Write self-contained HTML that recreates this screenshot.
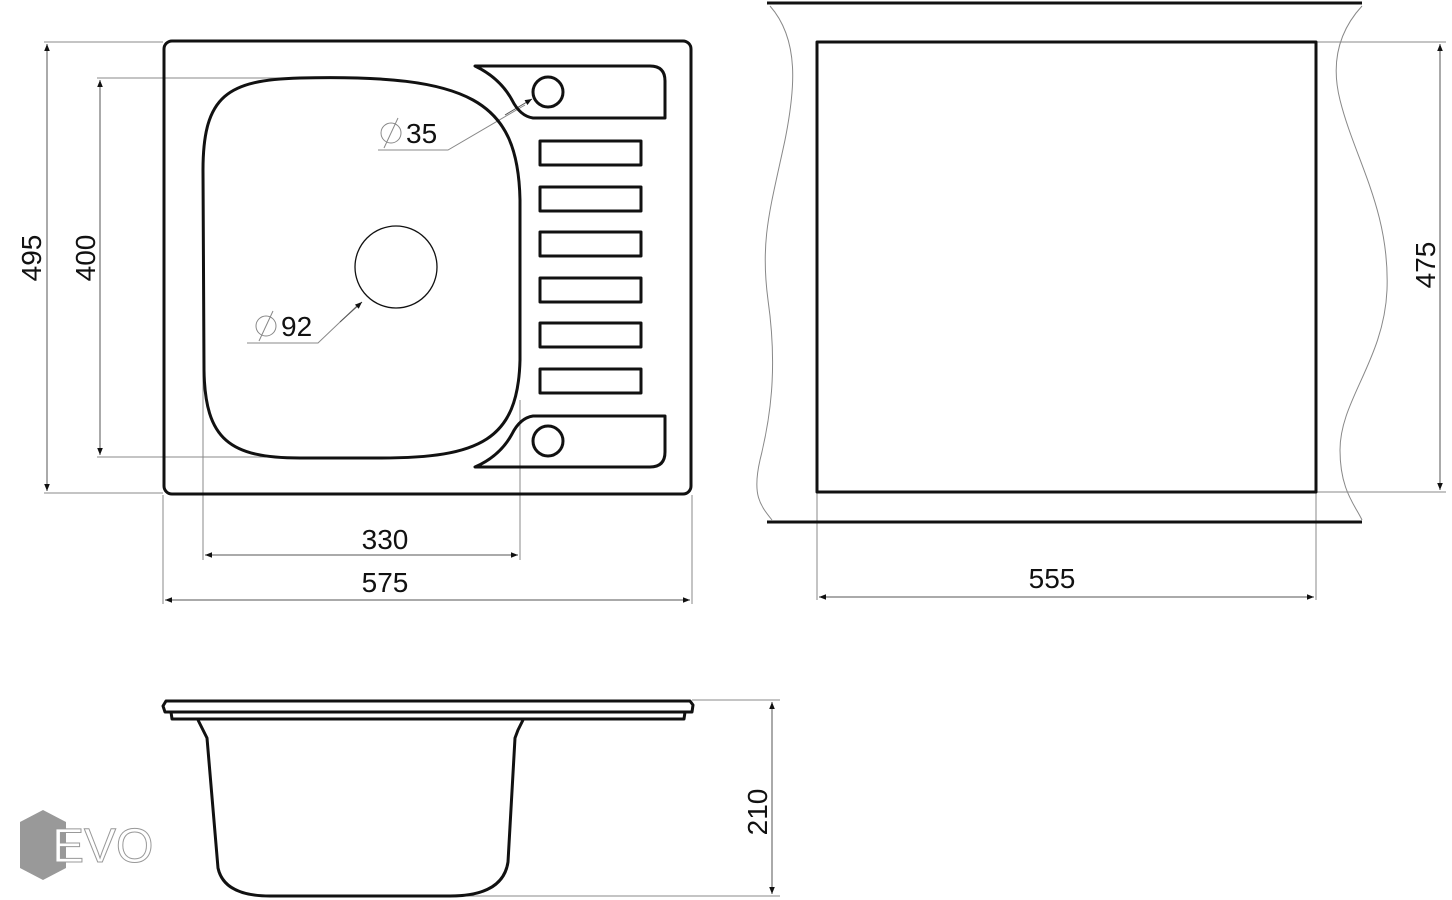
<!DOCTYPE html>
<html><head><meta charset="utf-8"><style>
html,body{margin:0;padding:0;background:#fff;}
svg{display:block;}
text{font-family:"Liberation Sans",sans-serif;fill:#111;}
</style></head><body>
<svg width="1452" height="900" viewBox="0 0 1452 900" xmlns="http://www.w3.org/2000/svg">
<defs>
<marker id="a" viewBox="0 0 10 10" refX="10" refY="5" markerWidth="16" markerHeight="7" markerUnits="userSpaceOnUse" orient="auto-start-reverse"><path d="M0,1 L10,5 L0,9 Z" fill="#111"/></marker>
</defs>
<g fill="none" stroke="#888" stroke-width="1">
<line x1="44" y1="42" x2="163" y2="42"/>
<line x1="44" y1="493" x2="163" y2="493"/>
<line x1="97" y1="78" x2="300" y2="78"/>
<line x1="97" y1="457" x2="300" y2="457"/>
<line x1="163" y1="495" x2="163" y2="604"/>
<line x1="692" y1="495" x2="692" y2="604"/>
<line x1="203" y1="360" x2="203" y2="560"/>
<line x1="520" y1="400" x2="520" y2="560"/>
<line x1="1316" y1="42" x2="1446" y2="42"/>
<line x1="1316" y1="492" x2="1446" y2="492"/>
<line x1="817" y1="492" x2="817" y2="600"/>
<line x1="1316" y1="492" x2="1316" y2="600"/>
<path d="M770,6 C800,40 795,90 785,140 C770,210 760,240 768,300 C778,370 770,420 760,460 C752,495 760,505 772,520"/>
<path d="M1362,6 C1340,30 1330,60 1340,100 C1355,160 1390,210 1387,290 C1384,360 1340,400 1340,450 C1340,490 1355,505 1362,520"/>
<line x1="692" y1="700" x2="780" y2="700"/>
<line x1="300" y1="896" x2="780" y2="896"/>
<polyline points="378,150 448,150 525,105"/>
<polyline points="247,343 318,343 360,303"/>
</g>
<g stroke="#555" stroke-width="1" fill="none">
<line x1="47" y1="44" x2="47" y2="491" marker-start="url(#a)" marker-end="url(#a)"/>
<line x1="100" y1="80" x2="100" y2="455" marker-start="url(#a)" marker-end="url(#a)"/>
<line x1="205" y1="555" x2="518" y2="555" marker-start="url(#a)" marker-end="url(#a)"/>
<line x1="165" y1="600" x2="690" y2="600" marker-start="url(#a)" marker-end="url(#a)"/>
<line x1="1440" y1="44" x2="1440" y2="490" marker-start="url(#a)" marker-end="url(#a)"/>
<line x1="819" y1="597" x2="1314" y2="597" marker-start="url(#a)" marker-end="url(#a)"/>
<line x1="772" y1="702" x2="772" y2="894" marker-start="url(#a)" marker-end="url(#a)"/>
<line x1="505" y1="115" x2="532" y2="99" marker-end="url(#a)"/>
<line x1="340" y1="322" x2="362" y2="302" marker-end="url(#a)"/>
</g>
<g fill="none" stroke="#111" stroke-width="3" stroke-linejoin="round">
<rect x="164" y="41" width="527" height="453" rx="8"/>
<path d="M300,78 C470,74 518,100 520,200 L520,360 C518,440 480,458 380,458 L300,458 C230,458 205,440 204,370 L203,170 C203,95 228,80 300,78 Z"/>
<path d="M475,66 L650,66 Q665,66 665,81 L665,118 L533,118 Q520,116 512,100 Q500,78 475,66 Z"/>
<path d="M475,467 L650,467 Q665,467 665,452 L665,416 L533,416 Q520,418 512,434 Q500,456 475,467 Z"/>
<circle cx="548" cy="92" r="15"/>
<circle cx="548" cy="441" r="15"/>
<rect x="540" y="141" width="101" height="24"/>
<rect x="540" y="187" width="101" height="24"/>
<rect x="540" y="232" width="101" height="24"/>
<rect x="540" y="278" width="101" height="24"/>
<rect x="540" y="323" width="101" height="24"/>
<rect x="540" y="369" width="101" height="24"/>
<rect x="817" y="42" width="499" height="450"/>
<line x1="767" y1="3" x2="1362" y2="3"/>
<line x1="767" y1="522" x2="1362" y2="522"/>
<path d="M166,701 L690,701 L693,705 L692,712 L165,712 L163,706 Z"/>
<path d="M171,712 L685,712 L684,719 L172,719 Z"/>
<path d="M198,720 L203,730 L207,738 L218,868 Q224,896 270,896 L450,896 Q503,896 508,862 L515,738 L518,730 L523,720"/>
</g>
<circle cx="396" cy="267" r="41" fill="none" stroke="#111" stroke-width="1.3"/>
<g font-size="28">
<text x="385" y="549" text-anchor="middle">330</text>
<text x="385" y="592" text-anchor="middle">575</text>
<text x="1052" y="588" text-anchor="middle">555</text>
<text transform="translate(41,258) rotate(-90)" text-anchor="middle">495</text>
<text transform="translate(95,258) rotate(-90)" text-anchor="middle">400</text>
<text transform="translate(1435,265) rotate(-90)" text-anchor="middle">475</text>
<text transform="translate(767,812) rotate(-90)" text-anchor="middle">210</text>
<text x="406" y="143">35</text>
<text x="281" y="336">92</text>
</g>
<g fill="none" stroke="#888" stroke-width="1">
<circle cx="391" cy="133" r="10"/><line x1="384" y1="148" x2="398" y2="118"/>
<circle cx="266" cy="326" r="10"/><line x1="259" y1="341" x2="273" y2="311"/>
</g>
<polygon points="43,810 66,822 66,868 43,880 20,868 20,822" fill="#999"/>
<text x="52" y="862" font-size="48" style="fill:#fff;stroke:#999;stroke-width:1">EVO</text>
</svg>
</body></html>
